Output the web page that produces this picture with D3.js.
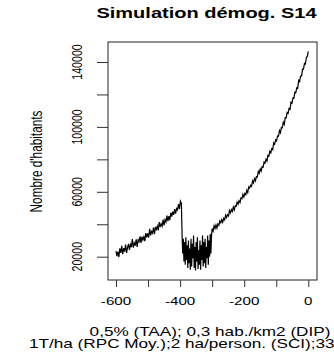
<!DOCTYPE html>
<html><head><meta charset="utf-8">
<script src="https://cdn.jsdelivr.net/npm/d3@7"></script>
<style>body{margin:0;background:#fff}svg{display:block}text{font-family:"Liberation Sans",Arial,sans-serif;fill:#000}</style>
</head><body>
<script>
const titleText = "Simulation démog. S14";
const yTitle = "Nombre d'habitants";
const subLines = ["0,5% (TAA); 0,3 hab./km2 (DIP)", "1T/ha (RPC Moy.);2 ha/person. (SCI);33"];
const xTicks = [-600, -500, -400, -300, -200, -100, 0];
const xTickLabels = [-600, -400, -200, 0];
const yTicks = [20000, 40000, 60000, 80000, 100000, 120000, 140000];
const yTickLabels = [20000, 60000, 100000, 140000];

const years = [
-600,-597,-594,-591,-588,-585,-582,-579,-576,-573,-570,-567,-564,-561,-558,-555,-552,-549,-546,-543,
-540,-537,-534,-531,-528,-525,-522,-519,-516,-513,-510,-507,-504,-501,-498,-495,-492,-489,-486,-483,
-480,-477,-474,-471,-468,-465,-462,-459,-456,-453,-450,-447,-444,-441,-438,-435,-432,-429,-426,-423,
-420,-417,-414,-411,-408,-405,-402,-399,-396,
-394,-392,-390,-388,-386,-384,-382,-380,-378,-376,-374,-372,-370,-368,-366,-364,-362,-360,-358,-356,
-354,-352,-350,-348,-346,-344,-342,-340,-338,-336,-334,-332,-330,-328,-326,-324,-322,-320,-318,-316,
-314,-312,-310,-308,-306,-304,-302,
-300,-297,-294,-291,-288,-285,-282,-279,-276,-273,-270,-267,-264,-261,-258,-255,-252,-249,-246,-243,
-240,-237,-234,-231,-228,-225,-222,-219,-216,-213,-210,-207,-204,-201,-198,-195,-192,-189,-186,-183,
-180,-177,-174,-171,-168,-165,-162,-159,-156,-153,-150,-147,-144,-141,-138,-135,-132,-129,-126,-123,
-120,-117,-114,-111,-108,-105,-102,-99,-96,-93,-90,-87,-84,-81,-78,-75,-72,-69,-66,-63,
-60,-57,-54,-51,-48,-45,-42,-39,-36,-33,-30,-27,-24,-21,-18,-15,-12,-9,-6,-3,0
];
const population = [
23500,20300,23100,19800,25100,22400,26700,21500,25300,23100,27500,22300,25600,27900,24200,27600,25900,30800,25600,28500,
26800,30700,26000,30400,29300,32600,28500,32400,30300,32200,29600,34500,31900,34300,31800,37200,33100,35600,34500,38000,
33900,38400,36800,38800,36300,41300,38300,40300,38800,42800,39300,42800,41400,45400,41900,45000,42500,47100,44700,47800,
45800,49400,46500,49700,48800,52400,49500,54200,52800,
35000,22000,31000,17000,29000,15000,32000,18000,27000,13000,30000,16000,25000,12000,31000,14000,28000,19000,33000,13000,
26000,11500,29000,17000,32000,12500,24000,15000,30000,12000,27000,18000,33000,14000,29000,16000,31000,13000,26000,19000,
33000,15000,30000,20000,34000,22000,33000,
37300,35800,39000,37400,39600,37600,40200,39400,42000,40900,42800,41200,43700,42700,45700,44200,45900,45100,48400,47000,
49000,47900,50600,48800,51300,51000,53600,52300,54500,53400,56300,55800,58400,56800,59000,58200,60900,59500,63000,62300,
64100,63400,66700,65500,68100,66800,69400,69200,72600,71400,74100,72800,75500,75200,78400,77800,80100,78900,82500,82100,
85000,84000,86600,86000,90100,89400,92000,91300,94400,94200,97700,96400,99600,99500,102900,101600,105700,105600,108900,108400,
111400,110900,115200,114700,117800,117600,121400,121100,124100,123900,128700,127900,131300,131400,135600,135600,139100,138800,142800,143400,146500
];

const W = 334, H = 353, SX = 1.43;
const box = {l: 108, r: 317, t: 42, b: 280};
const x = d3.scaleLinear().domain([-600, 0]).range([116, 308.3]);
const y = d3.scaleLinear().domain([20000, 140000]).range([256.7, 62]);

const svg = d3.select("body").append("svg").attr("width", W).attr("height", H);

// data line
svg.append("path")
  .datum(years.map((t, i) => [t, population[i]]))
  .attr("fill", "none").attr("stroke", "#000").attr("stroke-width", 1.2)
  .attr("stroke-linejoin", "miter")
  .attr("d", d3.line().x(d => x(d[0])).y(d => y(d[1])));

// box
svg.append("rect").attr("x", box.l).attr("y", box.t)
  .attr("width", box.r - box.l).attr("height", box.b - box.t)
  .attr("fill", "none").attr("stroke", "#222").attr("stroke-width", 1);

// y axis ticks
const ya = svg.append("g").attr("transform", `translate(${box.l},0)`)
  .call(d3.axisLeft(y).tickValues(yTicks).tickSize(11).tickFormat(""));
ya.select(".domain").remove();
ya.selectAll("line").attr("stroke", "#333");

// x axis ticks
const xa = svg.append("g").attr("transform", `translate(0,${box.b})`)
  .call(d3.axisBottom(x).tickValues(xTicks).tickSize(7).tickFormat(""));
xa.select(".domain").remove();
xa.selectAll("line").attr("stroke", "#333");

// y tick labels (rotated)
svg.selectAll(".ytl").data(yTickLabels).enter().append("text")
  .attr("transform", d => `translate(82,${y(d)}) scale(${SX},1) rotate(-90)`)
  .attr("text-anchor", "middle").attr("font-size", 10.6).text(d => d);

// x tick labels
svg.selectAll(".xtl").data(xTickLabels).enter().append("text")
  .attr("transform", d => `translate(${x(d)},305) scale(${SX},1)`)
  .attr("text-anchor", "middle").attr("font-size", 10.6).text(d => d);

// y axis title
svg.append("text")
  .attr("transform", `translate(42,161.5) scale(${SX},1) rotate(-90)`)
  .attr("text-anchor", "middle").attr("font-size", 11.8).text(yTitle);

// title
svg.append("text")
  .attr("transform", `translate(206.5,18.3) scale(${SX},1)`)
  .attr("text-anchor", "middle").attr("font-size", 14).attr("font-weight", "bold").text(titleText);

// sub lines
svg.append("text")
  .attr("transform", `translate(210,335.5) scale(${SX},1)`)
  .attr("text-anchor", "middle").attr("font-size", 12).text(subLines[0]);
svg.append("text")
  .attr("transform", `translate(29,347.5) scale(${SX},1)`)
  .attr("text-anchor", "start").attr("font-size", 12).text(subLines[1]);
</script>
</body></html>
